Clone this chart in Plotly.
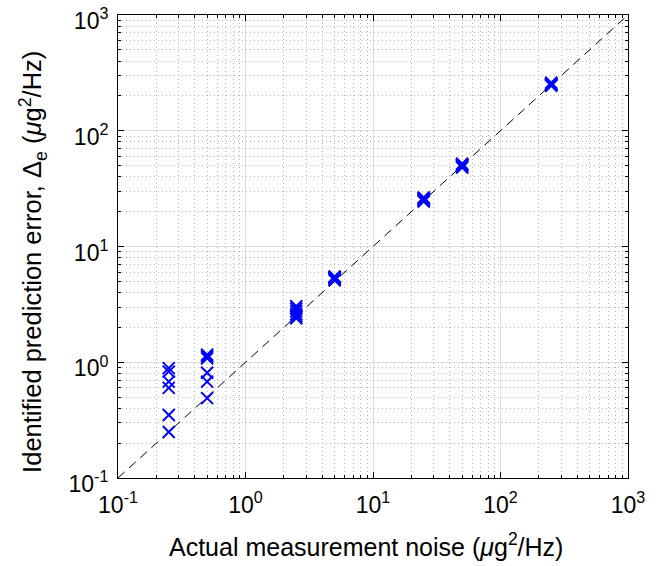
import plotly.graph_objects as go

# Actual measurement noise levels (x) and identified prediction errors (y)
noise_levels = [0.25, 0.5, 2.5, 5, 25, 50, 250]
identified = {
    0.25: [0.89, 0.83, 0.68, 0.60, 0.35, 0.25],
    0.5: [1.16, 1.12, 1.08, 0.81, 0.68, 0.49],
    2.5: [2.4, 2.5, 2.6, 2.75, 2.9, 3.05],
    5: [5.1, 5.2, 5.3, 5.4, 5.5, 5.35],
    25: [24.5, 25.0, 25.5, 26.0, 26.5, 25.8],
    50: [48, 49, 50, 51, 52, 50.5],
    250: [245, 250, 255, 260, 252, 248],
}
ref_line = [0.1, 1000]
tick_vals = [0.1, 1, 10, 100, 1000]
tick_text = ["10<sup>-1</sup>", "10<sup>0</sup>", "10<sup>1</sup>", "10<sup>2</sup>", "10<sup>3</sup>"]
x_title = "Actual measurement noise (<i>μ</i>g<sup>2</sup>/Hz)"
y_title = "Identified prediction error, Δ<sub>e</sub> (<i>μ</i>g<sup>2</sup>/Hz)"

xs, ys = [], []
for n in noise_levels:
    for v in identified[n]:
        xs.append(n)
        ys.append(v)

minor_vals = [m * 10 ** e for e in range(-1, 3) for m in range(2, 10)]

fig = go.Figure()
fig.add_trace(go.Scatter(x=ref_line, y=ref_line, mode="lines",
                         line=dict(color="black", width=1, dash="9px,6px"),
                         showlegend=False, hoverinfo="skip"))
fig.add_trace(go.Scatter(x=xs, y=ys, mode="markers",
                         marker=dict(symbol="x-thin", size=12,
                                     line=dict(color="#0000ff", width=2)),
                         showlegend=False))

axis_common = dict(
    type="log", range=[-1.0002, 3.0002], tickmode="array", tickvals=tick_vals, ticktext=tick_text,
    showline=True, linecolor="black", linewidth=1, mirror="ticks",
    ticks="inside", ticklen=6, tickcolor="black", automargin=False,
    ticklabeloverflow="allow",
    showgrid=True, gridcolor="#dedede", gridwidth=1, zeroline=False,
    tickfont=dict(family="Liberation Sans, Arial", size=23, color="black"),
    minor=dict(tickmode="array", tickvals=minor_vals, ticks="inside", ticklen=3,
               tickcolor="black", showgrid=True, gridcolor="#b4b4b4", griddash="1px,3px", gridwidth=1),
)

fig.update_xaxes(**axis_common, ticklabelstandoff=6)
fig.update_yaxes(**axis_common, ticklabelstandoff=4, ticklabelshift=6)

fig.add_annotation(text=x_title, xref="paper", yref="paper", x=0.486, y=-0.1444,
                   xanchor="center", yanchor="middle", showarrow=False,
                   font=dict(family="Liberation Sans, Arial", size=25, color="black"))
fig.add_annotation(text=y_title, xref="paper", yref="paper", x=-0.167, y=0.4664,
                   xanchor="center", yanchor="middle", textangle=-90, showarrow=False,
                   font=dict(family="Liberation Sans, Arial", size=25.5, color="black"))

fig.update_layout(width=667, height=566, plot_bgcolor="white", paper_bgcolor="white",
                  margin=dict(l=118, r=39, t=15, b=88))

fig.write_html("out.html", config={"displayModeBar": False},
               post_script="document.body.style.margin='0';")
